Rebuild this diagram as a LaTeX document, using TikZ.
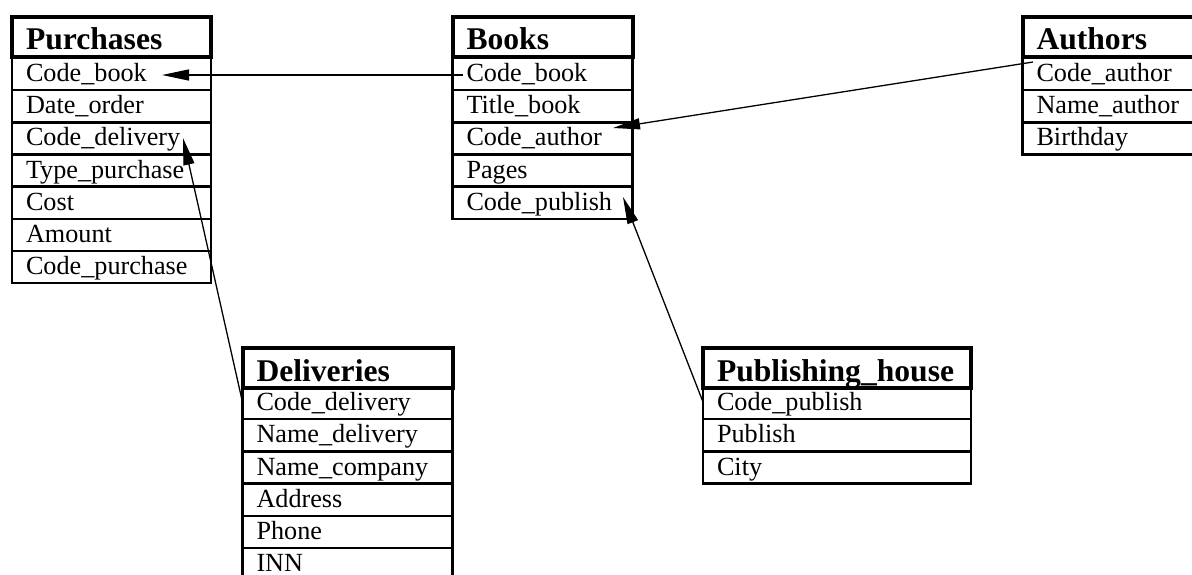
\documentclass[tikz,border=0pt]{standalone}
\usepackage{fontspec}
\setmainfont{Liberation Serif}
\usetikzlibrary{arrows.meta}
\tikzset{
  fld/.style={draw, line width=1.2pt, rectangle, anchor=north west, outer sep=0pt,
    minimum height=16.07pt, inner xsep=7pt, inner ysep=0pt,
    text height=10.2pt, text depth=2.6pt, align=left, text width=#1,
    font=\fontsize{13.1}{14}\selectfont},
  hdr/.style={draw, line width=2pt, rectangle, anchor=north west, outer sep=0pt,
    minimum height=20pt, inner xsep=7pt, inner ysep=0pt,
    text height=14pt, text depth=1pt, align=left, text width=#1,
    font=\bfseries\fontsize{15.8}{17}\selectfont},
  conn/.style={line width=0.65pt, -{Triangle[length=13.5pt,width=5.5pt]}}
}
\begin{document}
\begin{tikzpicture}[x=0.5pt,y=-0.5pt]
\useasboundingbox (0,0) rectangle (1192,574);
% Purchases
\node[hdr=85.5pt] (ph) at (12,16.5) {Purchases};
\node[fld=85.5pt] (p1) at (12,58) {Code\_book};
\node[fld=85.5pt] (p2) at (12,90.15) {Date\_order};
\node[fld=85.5pt] (p3) at (12,122.3) {Code\_delivery};
\node[fld=85.5pt] (p4) at (12,154.45) {Type\_purchase};
\node[fld=85.5pt] (p5) at (12,186.6) {Cost};
\node[fld=85.5pt] (p6) at (12,218.75) {Amount};
\node[fld=85.5pt] (p7) at (12,250.9) {Code\_purchase};
% Books
\node[hdr=76pt] (bh) at (452.5,16.5) {Books};
\node[fld=76pt] (b1) at (452.5,58) {Code\_book};
\node[fld=76pt] (b2) at (452.5,90.15) {Title\_book};
\node[fld=76pt] (b3) at (452.5,122.3) {Code\_author};
\node[fld=76pt] (b4) at (452.5,154.45) {Pages};
\node[fld=76pt] (b5) at (452.5,186.6) {Code\_publish};
% Authors
\node[hdr=86pt] (ah) at (1022.5,16.5) {Authors};
\node[fld=86pt] (a1) at (1022.5,58) {Code\_author};
\node[fld=86pt] (a2) at (1022.5,90.15) {Name\_author};
\node[fld=86pt] (a3) at (1022.5,122.3) {Birthday};
% Deliveries
\node[hdr=91pt] (dh) at (242.5,348) {Deliveries};
\node[fld=91pt] (d1) at (242.5,387) {Code\_delivery};
\node[fld=91pt] (d2) at (242.5,419.2) {Name\_delivery};
\node[fld=91pt] (d3) at (242.5,451.4) {Name\_company};
\node[fld=91pt] (d4) at (242.5,483.6) {Address};
\node[fld=91pt] (d5) at (242.5,515.8) {Phone};
\node[fld=91pt] (d6) at (242.5,548) {INN};
% Publishing house
\node[hdr=120pt] (hh) at (703,348) {Publishing\_house};
\node[fld=120pt] (h1) at (703,387) {Code\_publish};
\node[fld=120pt] (h2) at (703,419.2) {Publish};
\node[fld=120pt] (h3) at (703,451.4) {City};
% connector end points
\coordinate (c1s) at (463,75);
\coordinate (c1e) at (162,75);
\coordinate (c2s) at (1033,62);
\coordinate (c2e) at (613,128);
\coordinate (c3s) at (242,400);
\coordinate (c3e) at (183,138);
\coordinate (c4s) at (703,402);
\coordinate (c4e) at (623,197);
\draw[conn] (c1s) -- (c1e);
\draw[conn] (c2s) -- (c2e);
\draw[conn] (c3s) -- (c3e);
\draw[conn] (c4s) -- (c4e);
\end{tikzpicture}
\end{document}
